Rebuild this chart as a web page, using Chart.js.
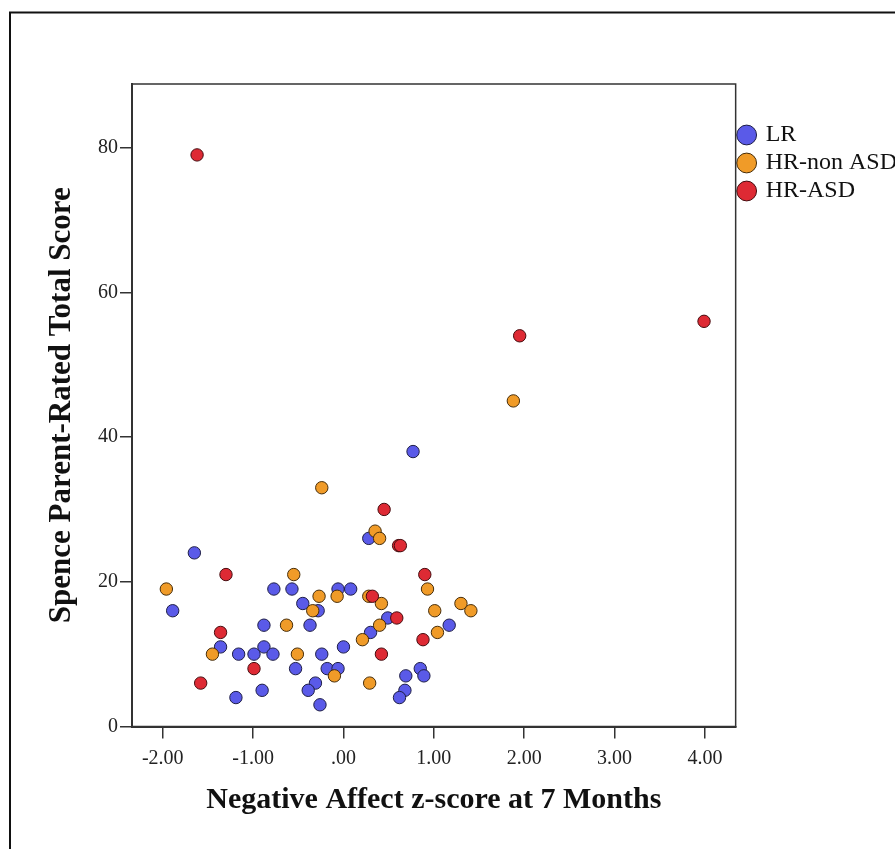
<!DOCTYPE html>
<html>
<head>
<meta charset="utf-8">
<script src="https://cdn.jsdelivr.net/npm/chart.js@4.4.0/dist/chart.umd.min.js"></script>
<style>
  body { margin: 0; background: #fff; }
</style>
</head>
<body>
<canvas id="scatterCanvas" width="895" height="849"></canvas>
<script>
// tick values shown on the axes
var xTicks = [-2, -1, 0, 1, 2, 3, 4];
var yTicks = [0, 20, 40, 60, 80];

// LR group
var lrX = [-1.65, -0.77, -0.57, -0.06, 0.08, -1.89, -0.45, -0.28, 0.49, -0.88, -0.37, 1.17, 0.30, -1.36, -0.88, 0.00, -1.16, -0.99, -0.78, -0.24, -0.53, -0.18, -0.06, 0.85, 0.89, 0.69, -0.90, -0.31, -0.39, 0.68, 0.62, -1.19, -0.26, 0.28, 0.77];
var lrY = [24, 19, 19, 19, 19, 16, 17, 16, 15, 14, 14, 14, 13, 11, 11, 11, 10, 10, 10, 10, 8, 8, 8, 8, 7, 7, 5, 6, 5, 5, 4, 4, 3, 26, 38];

// HR-non ASD group
var hrNonX = [-0.24, 0.35, 0.40, -0.55, -1.96, 0.93, -0.27, -0.07, 0.28, 0.42, -0.34, 1.01, 1.30, 1.41, -0.63, 0.40, 1.04, 0.21, -1.45, -0.51, -0.10, 0.29, 1.88];
var hrNonY = [33, 27, 26, 21, 19, 19, 18, 18, 18, 17, 16, 16, 17, 16, 14, 14, 13, 12, 10, 10, 7, 6, 45];

// HR-ASD group
var hrAsdX = [-1.62, 1.95, 3.99, 0.45, 0.61, 0.63, -1.30, 0.90, 0.32, 0.59, -1.36, 0.88, 0.42, -0.99, -1.58];
var hrAsdY = [79, 54, 56, 30, 25, 25, 21, 21, 18, 15, 13, 12, 10, 8, 6];

function toPoints(xs, ys) {
  return xs.map(function (x, i) { return { x: x, y: ys[i] }; });
}

// frame around plot area plus the outer picture border
var framePlugin = {
  id: 'frame',
  afterDraw: function (chart) {
    var ctx = chart.ctx;
    var a = chart.chartArea;
    ctx.save();
    ctx.strokeStyle = '#333';
    ctx.lineWidth = 1.5;
    ctx.strokeRect(a.left, a.top, a.right - a.left, a.bottom - a.top);
    ctx.strokeStyle = '#111';
    ctx.lineWidth = 2;
    ctx.beginPath();
    ctx.moveTo(10, 849);
    ctx.lineTo(10, 12.5);
    ctx.lineTo(895, 12.5);
    ctx.stroke();
    ctx.restore();
  }
};

var serif = 'Liberation Serif';

var ctx = document.getElementById('scatterCanvas').getContext('2d');
var scatterChart = new Chart(ctx, {
  type: 'scatter',
  data: {
    datasets: [{
      label: 'LR',
      data: toPoints(lrX, lrY),
      backgroundColor: 'rgb(90, 90, 232)',
      borderColor: 'rgb(30, 30, 70)',
      order: 3
    }, {
      label: 'HR-non ASD',
      data: toPoints(hrNonX, hrNonY),
      backgroundColor: 'rgb(240, 155, 40)',
      borderColor: 'rgb(70, 45, 10)',
      order: 2
    }, {
      label: 'HR-ASD',
      data: toPoints(hrAsdX, hrAsdY),
      backgroundColor: 'rgb(222, 42, 52)',
      borderColor: 'rgb(70, 12, 15)',
      order: 1
    }]
  },
  options: {
    responsive: false,
    animation: false,
    layout: {
      padding: { left: 0, top: 84, right: -12, bottom: 0 }
    },
    elements: {
      point: { radius: 6.2, borderWidth: 1, hoverRadius: 6.2 }
    },
    plugins: {
      tooltip: { enabled: false },
      legend: {
        position: 'right',
        align: 'start',
        reverse: true,
        title: { display: true, text: ' ', font: { size: 12 }, padding: { top: 10, bottom: 10.6 } },
        labels: {
          usePointStyle: true,
          pointStyle: 'circle',
          boxWidth: 14,
          boxHeight: 14,
          padding: 4,
          color: '#111',
          font: { family: serif, size: 24 }
        }
      }
    },
    scales: {
      x: {
        type: 'linear',
        min: -2.34,
        max: 4.34,
        afterBuildTicks: function (scale) {
          scale.ticks = xTicks.map(function (v) { return { value: v }; });
        },
        afterFit: function (scale) { scale.height = 122.5; },
        grid: { drawOnChartArea: false, drawTicks: true, tickLength: 12, color: '#333', lineWidth: 1.5 },
        border: { display: true, color: '#333', width: 2 },
        ticks: {
          padding: 8,
          color: '#222',
          font: { family: serif, size: 20 },
          callback: function (v) {
            return v === 0 ? '.00' : v.toFixed(2);
          }
        },
        title: {
          display: true,
          text: 'Negative Affect z-score at 7 Months',
          color: '#111',
          font: { family: serif, size: 30, weight: 'bold' },
          padding: { top: 0, bottom: 31 }
        }
      },
      y: {
        type: 'linear',
        min: 0,
        max: 88.8,
        afterBuildTicks: function (scale) {
          scale.ticks = yTicks.map(function (v) { return { value: v }; });
        },
        afterFit: function (scale) { scale.width = 132; },
        grid: { drawOnChartArea: false, drawTicks: true, tickLength: 12, color: '#333', lineWidth: 1.5 },
        border: { display: true, color: '#333', width: 2 },
        ticks: {
          padding: 2,
          color: '#222',
          font: { family: serif, size: 20 }
        },
        title: {
          display: true,
          text: 'Spence Parent-Rated Total Score',
          color: '#111',
          font: { family: serif, size: 31, weight: 'bold' },
          padding: { top: 43, bottom: 0 }
        }
      }
    }
  },
  plugins: [framePlugin]
});
</script>
</body>
</html>
